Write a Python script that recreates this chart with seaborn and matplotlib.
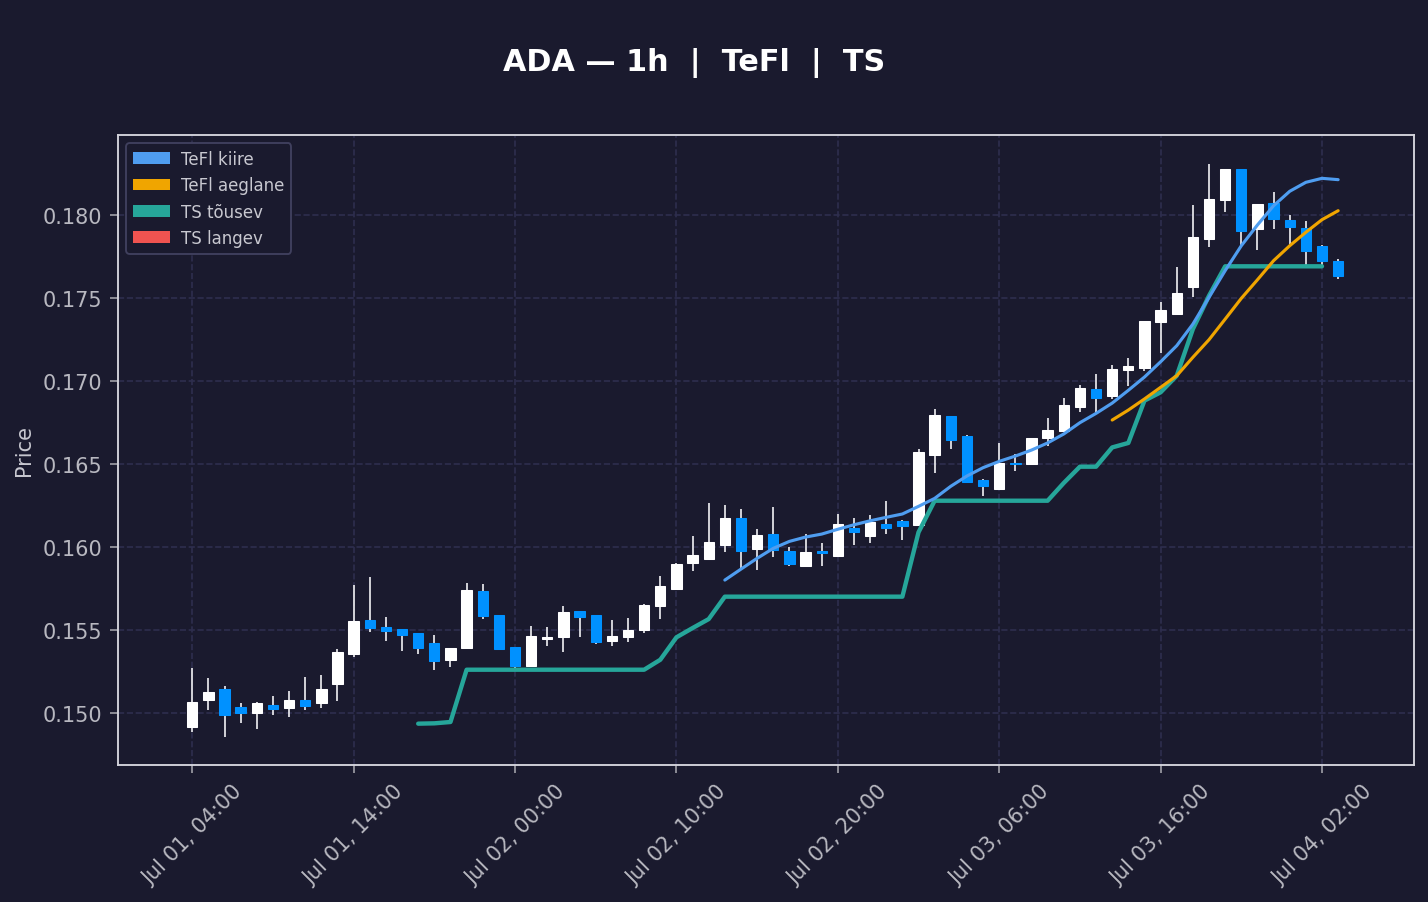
import numpy as np
import pandas as pd
import matplotlib
matplotlib.use("Agg")
import matplotlib.pyplot as plt
import matplotlib.dates as mdates
from matplotlib.patches import Patch
import seaborn as sns

# ---------------- data ----------------
start_time = "2025-07-01 04:00"
n_candles = 72

opens = [0.14917, 0.15080, 0.15143, 0.15034, 0.14998, 0.15048, 0.15028, 0.15077, 0.15062, 0.15173,
         0.15357, 0.15558, 0.15516, 0.15504, 0.15480, 0.15420, 0.15321, 0.15390, 0.15733, 0.15588,
         0.15396, 0.15285, 0.15448, 0.15456, 0.15613, 0.15588, 0.15432, 0.15456, 0.15502, 0.15643,
         0.15749, 0.15902, 0.15930, 0.16014, 0.16173, 0.15990, 0.16076, 0.15974, 0.15884, 0.15974,
         0.15944, 0.16113, 0.16064, 0.16137, 0.16155, 0.16130, 0.16552, 0.16787, 0.16667, 0.16402,
         0.16347, 0.16506, 0.16498, 0.16655, 0.16697, 0.16845, 0.16950, 0.16912, 0.17064, 0.17080,
         0.17354, 0.17405, 0.17564, 0.17857, 0.18088, 0.18275, 0.17914, 0.18070, 0.17968, 0.17920,
         0.17811, 0.17721]
highs = [0.15271, 0.15211, 0.15163, 0.15060, 0.15064, 0.15102, 0.15133, 0.15217, 0.15229, 0.15386,
         0.15771, 0.15819, 0.15578, 0.15506, 0.15482, 0.15470, 0.15390, 0.15783, 0.15777, 0.15590,
         0.15396, 0.15524, 0.15518, 0.15645, 0.15615, 0.15588, 0.15560, 0.15572, 0.15655, 0.15825,
         0.15905, 0.16066, 0.16265, 0.16253, 0.16229, 0.16107, 0.16239, 0.16000, 0.16076, 0.16022,
         0.16199, 0.16175, 0.16191, 0.16275, 0.16161, 0.16589, 0.16829, 0.16790, 0.16673, 0.16408,
         0.16627, 0.16558, 0.16655, 0.16775, 0.16900, 0.16975, 0.17040, 0.17096, 0.17137, 0.17360,
         0.17474, 0.17685, 0.18058, 0.18307, 0.18275, 0.18275, 0.18064, 0.18137, 0.17998, 0.17962,
         0.17817, 0.17733]
lows = [0.14887, 0.15020, 0.14857, 0.14942, 0.14905, 0.14990, 0.14978, 0.15020, 0.15032, 0.15074,
        0.15339, 0.15490, 0.15436, 0.15375, 0.15357, 0.15261, 0.15279, 0.15390, 0.15568, 0.15382,
        0.15273, 0.15285, 0.15406, 0.15369, 0.15460, 0.15417, 0.15406, 0.15430, 0.15480, 0.15568,
        0.15743, 0.15855, 0.15923, 0.15972, 0.15873, 0.15863, 0.15942, 0.15884, 0.15884, 0.15887,
        0.15944, 0.16014, 0.16026, 0.16078, 0.16044, 0.16130, 0.16448, 0.16592, 0.16390, 0.16309,
        0.16347, 0.16456, 0.16498, 0.16607, 0.16697, 0.16811, 0.16811, 0.16893, 0.16972, 0.17062,
        0.17171, 0.17399, 0.17508, 0.17809, 0.18020, 0.17815, 0.17791, 0.17914, 0.17823, 0.17697,
        0.17691, 0.17616]
closes = [0.15064, 0.15125, 0.14990, 0.14998, 0.15058, 0.15022, 0.15077, 0.15040, 0.15143, 0.15365,
          0.15552, 0.15510, 0.15492, 0.15468, 0.15390, 0.15315, 0.15390, 0.15739, 0.15586, 0.15384,
          0.15285, 0.15462, 0.15456, 0.15607, 0.15577, 0.15426, 0.15466, 0.15498, 0.15651, 0.15763,
          0.15896, 0.15950, 0.16028, 0.16173, 0.15974, 0.16070, 0.15984, 0.15896, 0.15968, 0.15962,
          0.16137, 0.16089, 0.16149, 0.16113, 0.16128, 0.16570, 0.16793, 0.16646, 0.16390, 0.16366,
          0.16504, 0.16498, 0.16655, 0.16703, 0.16853, 0.16956, 0.16899, 0.17070, 0.17089, 0.17360,
          0.17426, 0.17528, 0.17866, 0.18094, 0.18275, 0.17902, 0.18064, 0.17974, 0.17926, 0.17781,
          0.17721, 0.17634]

NA = np.nan
tefl_fast = [NA] * 33 + [
    0.15801, 0.15867, 0.15932, 0.15992, 0.16034, 0.16060, 0.16078, 0.16107, 0.16134, 0.16158,
    0.16179, 0.16199, 0.16245, 0.16293, 0.16366, 0.16428, 0.16478, 0.16516, 0.16548, 0.16584,
    0.16627, 0.16681, 0.16749, 0.16805, 0.16867, 0.16944, 0.17024, 0.17116, 0.17213, 0.17343,
    0.17504, 0.17665, 0.17815, 0.17940, 0.18056, 0.18143, 0.18197, 0.18221, 0.18213]
tefl_slow = [NA] * 57 + [
    0.16765, 0.16825, 0.16892, 0.16962, 0.17032, 0.17143, 0.17249, 0.17373, 0.17498, 0.17610,
    0.17725, 0.17815, 0.17896, 0.17972, 0.18026]
ts_up = [NA] * 14 + [
    0.14936, 0.14938, 0.14946,
    0.15261, 0.15261, 0.15261, 0.15261, 0.15261, 0.15261, 0.15261, 0.15261, 0.15261, 0.15261, 0.15261, 0.15261,
    0.15321, 0.15456, 0.15512, 0.15566,
    0.15701, 0.15701, 0.15701, 0.15701, 0.15701, 0.15701, 0.15701, 0.15701, 0.15701, 0.15701, 0.15701, 0.15701,
    0.16089,
    0.16279, 0.16279, 0.16279, 0.16279, 0.16279, 0.16279, 0.16279, 0.16279,
    0.16386, 0.16484, 0.16484, 0.16600, 0.16627, 0.16882, 0.16932, 0.17032, 0.17313, 0.17514,
    0.17691, 0.17691, 0.17691, 0.17691, 0.17691, 0.17691, 0.17691] + [NA]
ts_down = [NA] * n_candles

title_text = "ADA — 1h  |  TeFl  |  TS"
legend_labels = ["TeFl kiire", "TeFl aeglane", "TS tõusev", "TS langev"]

# ---------------- style ----------------
BG = "#1a1a2e"
GRID = "#2e2e4e"
TXT = "#b8b8c0"
UP = "#ffffff"
DOWN = "#0091ff"
WICK = "#e4e4e8"
C_FAST = "#4f9df0"
C_SLOW = "#f0a500"
C_TSUP = "#26a69a"
C_TSDN = "#ef5350"

sns.set_theme(style="darkgrid", rc={
    "axes.facecolor": BG,
    "figure.facecolor": BG,
    "axes.edgecolor": "#d4d4dc",
    "grid.color": GRID,
    "grid.linestyle": "--",
    "grid.linewidth": 0.8,
    "xtick.color": TXT,
    "ytick.color": TXT,
    "axes.labelcolor": "#c8c8d0",
    "xtick.bottom": True,
    "ytick.left": True,
})
plt.rcParams["font.family"] = ["DejaVu Sans"]

times = pd.date_range(start_time, periods=n_candles, freq="h")
df = pd.DataFrame({
    "time": times, "open": opens, "high": highs, "low": lows, "close": closes,
    "fast": tefl_fast, "slow": tefl_slow, "ts_up": ts_up, "ts_down": ts_down,
})

fig = plt.figure(figsize=(9.52, 6.02), dpi=150)
ax = fig.add_axes([118 / 1428, 1 - 766 / 903, (1414 - 118) / 1428, (766 - 136) / 903])

# candles
xs = mdates.date2num(df["time"])
up = df["close"] >= df["open"]
colors = np.where(up, UP, DOWN)
ax.vlines(xs, df["low"], df["high"], color=WICK, linewidth=0.85, zorder=2)
body_bottom = np.minimum(df["open"], df["close"])
body_h = np.maximum(np.abs(df["close"] - df["open"]), 0.00004)
ax.bar(xs, body_h, bottom=body_bottom, width=0.64 / 24, color=colors,
       edgecolor=colors, linewidth=0.5, zorder=3)

# indicator lines
sns.lineplot(data=df.dropna(subset=["ts_up"]), x="time", y="ts_up", color=C_TSUP,
             linewidth=2.1, ax=ax, zorder=4)
if df["ts_down"].notna().any():
    sns.lineplot(data=df.dropna(subset=["ts_down"]), x="time", y="ts_down", color=C_TSDN,
                 linewidth=2.1, ax=ax, zorder=4)
sns.lineplot(data=df.dropna(subset=["fast"]), x="time", y="fast", color=C_FAST,
             linewidth=1.5, ax=ax, zorder=5)
sns.lineplot(data=df.dropna(subset=["slow"]), x="time", y="slow", color=C_SLOW,
             linewidth=1.5, ax=ax, zorder=5)

# axes
ax.set_xlim(xs[0] - 4.6 / 24, xs[-1] + 4.7 / 24)
ax.set_ylim(0.14687, 0.18482)
ax.set_xticks(xs[::10])
ax.xaxis.set_major_formatter(mdates.DateFormatter("%b %d, %H:%M"))
ax.set_yticks([0.150, 0.155, 0.160, 0.165, 0.170, 0.175, 0.180])
ax.yaxis.set_major_formatter(matplotlib.ticker.FormatStrFormatter("%.3f"))
plt.setp(ax.get_xticklabels(), rotation=45, ha="center", fontsize=10)
plt.setp(ax.get_yticklabels(), fontsize=10)
ax.tick_params(axis="both", length=4, width=0.8, color="#a0a0a8")
ax.set_xlabel("")
ax.set_ylabel("Price", fontsize=10)
for s in ax.spines.values():
    s.set_visible(True)
    s.set_color("#d4d4dc")
    s.set_linewidth(0.9)
ax.grid(True, linestyle="--", color=GRID, linewidth=0.8)

handles = [Patch(facecolor=c, edgecolor="none", label=l)
           for c, l in zip([C_FAST, C_SLOW, C_TSUP, C_TSDN], legend_labels)]
leg = ax.legend(handles=handles, loc="upper left", fontsize=8, facecolor=BG,
                edgecolor="#40405e", labelcolor="#c8c8d0", framealpha=1.0,
                handlelength=2.2, handletextpad=0.7)
leg.get_frame().set_linewidth(0.9)

fig.text(694 / 1428, 1 - 63 / 903, title_text, ha="center", va="center",
         fontsize=14.5, fontweight="bold", color="white")

fig.savefig("out.png", dpi=150, facecolor=BG)
